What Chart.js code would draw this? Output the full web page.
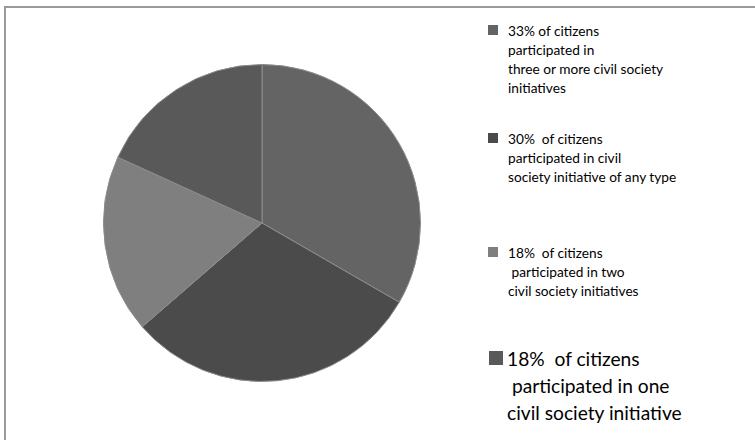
<!DOCTYPE html>
<html>
<head>
<meta charset="utf-8">
<script src="https://cdn.jsdelivr.net/npm/chart.js@4"></script>
<style>
  html, body { margin:0; padding:0; background:#fff; }
  body { width:755px; height:440px; position:relative; overflow:hidden; font-family: Lato, "Open Sans", sans-serif; }
  #frame { position:absolute; left:4px; top:6px; width:800px; height:500px; border-top:2px solid #9a9a9a; border-left:2px solid #9a9a9a; }
  #pieWrap { position:absolute; left:103px; top:64px; width:318px; height:318px; }
  .item { position:absolute; color:#000; white-space:pre; }
  .box { position:absolute; }
</style>
</head>
<body>
<div id="frame"></div>
<div id="pieWrap"><canvas id="c"></canvas></div>
<div id="legend"></div>
<script>
const categories = [
  "33% of citizens participated in three or more civil society initiatives",
  "30% of citizens participated in civil society initiative of any type",
  "18% of citizens participated in two civil society initiatives",
  "18% of citizens participated in one civil society initiative"
];
const legendLines = [
  ["33% of citizens", "participated in", "three or more civil society", "initiatives"],
  ["30%  of citizens", "participated in civil", "society initiative of any type"],
  ["18%  of citizens", " participated in two", "civil society initiatives"],
  ["18%  of citizens", " participated in one", "civil society initiative"]
];
const values = [33, 30, 18, 18];
const sliceColors = ["#646464", "#4b4b4b", "#7f7f7f", "#595959"];

new Chart(document.getElementById('c'), {
  type: 'pie',
  data: {
    labels: categories,
    datasets: [{
      data: values,
      backgroundColor: sliceColors,
      borderColor: '#8c8c8c',
      borderWidth: 1
    }]
  },
  options: {
    responsive: true,
    maintainAspectRatio: false,
    animation: false,
    layout: { padding: 0 },
    plugins: { legend: { display: false }, tooltip: { enabled: false } }
  }
});

// HTML legend built from the arrays
const legendLayout = [
  { top: 20.5, left: 508, fs: 13.7, lh: 19, box: 10, bx: 488 },
  { top: 128.5, left: 508, fs: 13.7, lh: 19, box: 10, bx: 488 },
  { top: 242.5, left: 508, fs: 13.7, lh: 19, box: 10, bx: 488 },
  { top: 344.5, left: 507, fs: 19.2, lh: 27, box: 14, bx: 489 }
];
const legend = document.getElementById('legend');
legendLines.forEach((lines, i) => {
  const L = legendLayout[i];
  const b = document.createElement('div');
  b.className = 'box';
  b.style.left = L.bx + 'px';
  b.style.top = (L.top + L.lh / 2 - L.box / 2) + 'px';
  b.style.width = L.box + 'px';
  b.style.height = L.box + 'px';
  b.style.background = sliceColors[i];
  legend.appendChild(b);
  const t = document.createElement('div');
  t.className = 'item';
  t.style.left = L.left + 'px';
  t.style.top = L.top + 'px';
  t.style.fontSize = L.fs + 'px';
  t.style.lineHeight = L.lh + 'px';
  t.textContent = lines.join('\n');
  legend.appendChild(t);
});
</script>
</body>
</html>
